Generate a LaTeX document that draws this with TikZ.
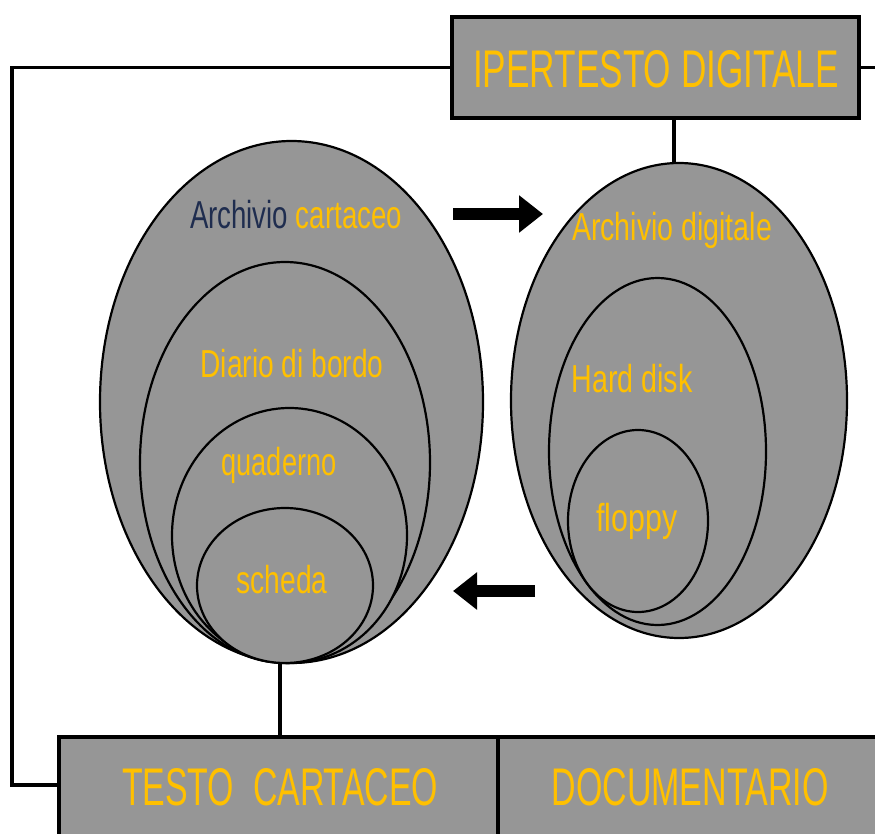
\documentclass[tikz,border=0pt]{standalone}
\usepackage{fontspec}
\usepackage{graphicx}
\setmainfont{Liberation Sans}
\usetikzlibrary{shapes.geometric,arrows.meta}
\definecolor{shade}{RGB}{150,150,150}
\definecolor{gold}{RGB}{255,192,0}
\definecolor{navy}{RGB}{31,45,79}
\newcommand{\fitw}[2]{\resizebox{#1pt}{\height}{#2}}
\begin{document}
\begin{tikzpicture}[x=1pt,y=-1pt,
  blob/.style={ellipse, draw=black, line width=2.2pt, fill=shade, inner sep=0pt, outer sep=0pt},
  lbl/.style={anchor=base, inner sep=0pt, text=gold, font=\fontsize{39pt}{40pt}\selectfont},
  biglbl/.style={anchor=base, inner sep=0pt, text=gold, font=\fontsize{53pt}{54pt}\selectfont},
  link/.style={line width=3.5pt},
  boxx/.style={rectangle, draw=black, line width=4.5pt, fill=shade, inner sep=0pt, outer sep=0pt},
  fat/.style={line width=12.5pt, -{Triangle[length=24pt,width=36pt]}}
]
\useasboundingbox[fill=white] (0,0) rectangle (875,833);

% boxes
\node[boxx, minimum width=407pt, minimum height=101pt] (top) at (655.5,67.5) {};
\node[boxx, minimum width=439pt, minimum height=146pt] (tc) at (278.5,810) {};
\node[boxx, minimum width=402pt, minimum height=146pt] (dc) at (699,810) {};

% connectors
\coordinate (lt) at (12,67.5);
\coordinate (lbm) at (59,785);
\coordinate (re) at (880,67.5);
\coordinate (tconn) at (674,118);
\coordinate (bconn) at (280,660);
\draw[link] (top.west) -- (lt) |- (lbm);
\draw[link] (top.east) -- (re);
\draw[link] (tconn) -- (674,165);
\draw[link] (bconn) -- (bconn |- tc.north);

% left ellipses
\node[blob, minimum width=383pt, minimum height=522pt] (L1) at (291.5,402) {};
\node[blob, minimum width=290pt, minimum height=401pt] (L2) at (285,462.5) {};
\node[blob, minimum width=235pt, minimum height=255pt] (L3) at (289.5,535.5) {};
\node[blob, minimum width=176pt, minimum height=155pt] (L4) at (285,585.5) {};

% right ellipses
\node[blob, minimum width=336pt, minimum height=475pt] (R1) at (679,400.5) {};
\node[blob, minimum width=217pt, minimum height=347pt] (R2) at (657.5,451.5) {};
\node[blob, minimum width=140pt, minimum height=182pt] (R3) at (638,521) {};

% arrows
\coordinate (a1s) at (453,214);
\coordinate (a1e) at (543,214);
\coordinate (a2s) at (535,591);
\coordinate (a2e) at (453,591);
\draw[fat] (a1s) -- (a1e);
\draw[fat] (a2s) -- (a2e);

% texts
\node[biglbl] (tIP) at (656,87) {\fitw{366}{IPERTESTO DIGITALE}};
\node[biglbl] (tTC) at (280,805) {\fitw{316}{TESTO\ \ CARTACEO}};
\node[biglbl] (tDO) at (690,805) {\fitw{277}{DOCUMENTARIO}};

\node[lbl] (tAC) at (296,228) {\fitw{212}{\textcolor{navy}{Archivio} cartaceo}};
\node[lbl] (tDB) at (292,377) {\fitw{183}{Diario di bordo}};
\node[lbl] (tQU) at (279,475) {\fitw{115}{quaderno}};
\node[lbl] (tSC) at (282,593) {\fitw{91}{scheda}};
\node[lbl] (tAD) at (672,240) {\fitw{200}{Archivio digitale}};
\node[lbl] (tHD) at (632,392) {\fitw{121}{Hard disk}};
\node[lbl] (tFL) at (637,531) {\fitw{81}{floppy}};
\end{tikzpicture}
\end{document}
